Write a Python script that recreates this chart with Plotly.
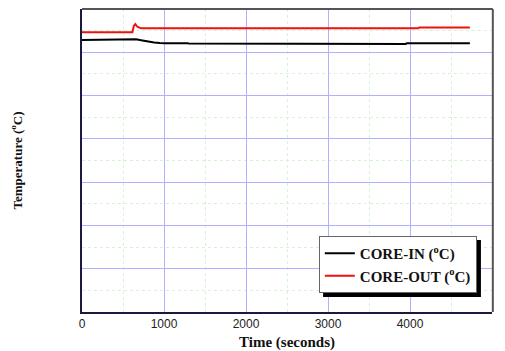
import plotly.graph_objects as go

# Data
t_core_in = [0, 40, 80, 660, 720, 800, 880, 950, 1010, 1290, 1300, 3950, 3960, 4730]
core_in = [628.4, 628.4, 630.0, 630.0, 628.0, 625.0, 622.6, 621.4, 620.8, 620.8, 620.2, 619.4, 620.8, 620.8]

t_core_out = [0, 615, 632, 650, 675, 720, 4100, 4115, 4730]
core_out = [646.2, 646.2, 661.0, 665.3, 659.0, 655.4, 655.4, 657.5, 657.5]

x_ticks = [0, 1000, 2000, 3000, 4000, 5000]
x_range = [0, 5000]
y_range = [0, 700]

fig = go.Figure()
fig.add_trace(go.Scatter(x=t_core_in, y=core_in, mode="lines",
                         name="<b>CORE-IN (<sup>o</sup>C)</b>",
                         line=dict(color="#000000", width=2)))
fig.add_trace(go.Scatter(x=t_core_out, y=core_out, mode="lines",
                         name="<b>CORE-OUT (<sup>o</sup>C)</b>",
                         line=dict(color="#ee1111", width=2)))

axis_font = dict(family="Liberation Sans, Arial", size=12, color="#222222")
serif = "Liberation Serif, Times New Roman"

fig.update_layout(
    width=505, height=351,
    margin=dict(l=82, r=13, t=9, b=39, autoexpand=False),
    paper_bgcolor="white", plot_bgcolor="white",
    showlegend=True,
    legend=dict(
        x=0.963, y=0.251, xanchor="right", yanchor="top",
        bgcolor="white", bordercolor="#666666", borderwidth=1,
        font=dict(family=serif, size=15, color="#111111"),
        tracegroupgap=0, itemwidth=30,
    ),
    xaxis=dict(
        range=x_range, tickvals=x_ticks, ticktext=[str(v) for v in x_ticks],
        tickfont=axis_font, ticks="", ticklen=0,
        showgrid=True, gridcolor="#b0b0ff", gridwidth=1,
        minor=dict(dtick=500, showgrid=True, gridcolor="#d4f4d4", griddash="dot", gridwidth=1),
        showline=True, linecolor="#1a1a40", linewidth=2,
        zeroline=False, automargin=False,
    ),
    yaxis=dict(
        range=y_range, dtick=100, showticklabels=False, ticks="",
        showgrid=True, gridcolor="#b0b0ff", gridwidth=1,
        minor=dict(dtick=50, showgrid=True, gridcolor="#d4f4d4", griddash="dot", gridwidth=1),
        showline=True, linecolor="#1a1a40", linewidth=2,
        zeroline=False, automargin=False,
    ),
)

# axis titles
fig.add_annotation(text="<b>Time (seconds)</b>", xref="paper", yref="paper",
                   x=0.5, y=-0.102, xanchor="center", yanchor="middle", showarrow=False,
                   font=dict(family=serif, size=15, color="#111111"))
fig.add_annotation(text="<b>Temperature (<sup>o</sup>C)</b>", xref="paper", yref="paper",
                   x=-0.161, y=0.5, xanchor="center", yanchor="middle", showarrow=False,
                   textangle=-90,
                   font=dict(family=serif, size=13, color="#111111"))

# top and right frame lines (grey)
fig.add_shape(type="line", xref="paper", yref="paper", x0=0, x1=1.002, y0=1, y1=1,
              line=dict(color="#555555", width=2))
fig.add_shape(type="line", xref="paper", yref="paper", x0=1.002, x1=1.002, y0=0, y1=1,
              line=dict(color="#555555", width=2))

# legend drop shadow
fig.add_shape(type="rect", xref="paper", yref="paper",
              x0=0.588, x1=0.973, y0=0.0495, y1=0.2376,
              fillcolor="black", line=dict(width=0), layer="above")

fig.write_html("out.html")
